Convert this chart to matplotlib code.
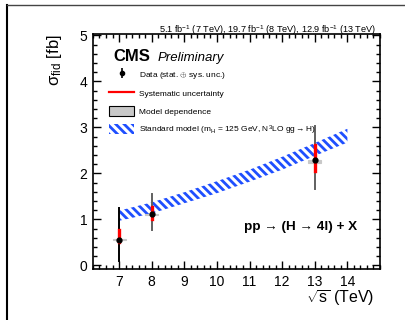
"""
Fiducial H->4l cross section vs sqrt(s), CMS-style reproduction.
"""
import matplotlib
matplotlib.use("Agg")
import matplotlib.pyplot as plt
from matplotlib.lines import Line2D
from matplotlib.patches import Patch, Rectangle
from matplotlib.legend_handler import HandlerTuple
from matplotlib.ticker import MultipleLocator

plt.rcParams["font.family"] = ["Liberation Sans", "DejaVu Sans"]
plt.rcParams["mathtext.fontset"] = "custom"
plt.rcParams["mathtext.rm"] = "Liberation Sans"
plt.rcParams["mathtext.it"] = "Liberation Sans:italic"
plt.rcParams["mathtext.bf"] = "Liberation Sans:bold"
plt.rcParams["hatch.linewidth"] = 2.0
plt.rcParams["hatch.color"] = "#1f4fff"

# measured points
energies = [7, 8, 13]
xsec = [0.56, 1.11, 2.29]
tot_lo = [0.10, 0.76, 1.66]
tot_hi = [1.25, 1.55, 3.02]
sys_lo = [0.50, 1.01, 2.06]
sys_hi = [0.77, 1.26, 2.61]
model_lo = [0.545, 1.10, 2.23]
model_hi = [0.565, 1.12, 2.30]

# standard model band (N3LO gg->H)
sm_energy = [7, 8, 9, 10, 11, 12, 13, 14]
sm_lo = [0.97, 1.13, 1.35, 1.57, 1.82, 2.08, 2.38, 2.67]
sm_hi = [1.19, 1.37, 1.59, 1.83, 2.08, 2.36, 2.66, 2.97]

LUMI_TEXT = (r"5.1 fb$^{-1}$ (7 TeV), 19.7 fb$^{-1}$ (8 TeV), "
             r"12.9 fb$^{-1}$ (13 TeV)")
BAR_COLORS = ["black", "#606060", "#606060"]

fig = plt.figure(figsize=(4.06, 3.2), dpi=100)
ax = fig.add_axes([0.229, 0.159, 0.707, 0.735])

# SM band
ax.fill_between(sm_energy, sm_lo, sm_hi, facecolor="white",
                edgecolor="#1f4fff", hatch="\\\\\\\\", linewidth=0, zorder=2)

# data: total error, model dependence box, systematic, point
for i, e in enumerate(energies):
    ax.plot([e, e], [tot_lo[i], tot_hi[i]], color=BAR_COLORS[i], lw=1.4, zorder=3)
    ax.add_patch(Rectangle((e - 0.2, model_lo[i]), 0.4,
                           model_hi[i] - model_lo[i],
                           facecolor="#c8c8c8", edgecolor="#c8c8c8",
                           lw=0.8, zorder=3))
    ax.plot([e, e], [sys_lo[i], sys_hi[i]], color="red", lw=2.4, zorder=4)
ax.plot(energies, xsec, "o", color="black", ms=3.5, zorder=5)

ax.set_xlim(6.2, 15.0)
ax.set_ylim(-0.08, 5.03)
ax.xaxis.set_major_locator(MultipleLocator(1))
ax.xaxis.set_minor_locator(MultipleLocator(0.2))
ax.yaxis.set_major_locator(MultipleLocator(1))
ax.yaxis.set_minor_locator(MultipleLocator(0.2))
ax.set_xticks(range(7, 15))
ax.tick_params(which="both", direction="in", top=True, right=True,
               labelsize=10, width=1.0)
ax.tick_params(which="major", length=6, pad=4)
ax.tick_params(which="minor", length=3)
for s in ax.spines.values():
    s.set_linewidth(1.2)

ax.set_ylabel(r"$\mathrm{σ}_{\mathrm{fid}}$ [fb]", fontsize=12, loc="top")
ax.yaxis.set_label_coords(-0.10, 1.0)
ax.set_xlabel(r"$\sqrt{\mathrm{s}}$ (TeV)", fontsize=11.5, loc="right")
ax.xaxis.set_label_coords(0.98, -0.08)

ax.text(0.07, 0.885, "CMS", fontsize=12, fontweight="bold",
        transform=ax.transAxes)
ax.text(0.225, 0.885, "Preliminary", fontsize=9.5, style="italic",
        transform=ax.transAxes)
ax.text(0.986, 1.006, LUMI_TEXT, fontsize=6.6, ha="right",
        transform=ax.transAxes)
ax.text(0.525, 0.165, "pp → (H → 4l) + X",
        fontsize=9.7, fontweight="bold", transform=ax.transAxes)

handles = [
    (Line2D([], [], color="black", marker="|", ms=7, mew=1.2, ls="none"),
     Line2D([], [], color="black", marker="o", ms=3, ls="none")),
    Line2D([], [], color="red", lw=1.6),
    Patch(facecolor="#c8c8c8", edgecolor="black", lw=0.8),
    Patch(facecolor="white", edgecolor="#1f4fff", hatch="\\\\\\\\", lw=0),
]
labels = [
    r"Data (stat. $\oplus$ sys. unc.)",
    "Systematic uncertainty",
    "Model dependence",
    r"Standard model (m$_{\mathrm{H}}$ = 125 GeV, N$^{3}$LO gg$\rightarrow$H)",
]
ax.legend(handles, labels, loc="upper left", bbox_to_anchor=(0.04, 0.868),
          frameon=False, fontsize=6, handlelength=3.1, handleheight=1.5,
          handletextpad=0.6, labelspacing=0.88, borderpad=0,
          handler_map={tuple: HandlerTuple(ndivide=1)})

# outer frame lines
fig.add_artist(Line2D([0.017, 0.017], [0.0, 0.984], color="black", lw=1.5,
                      transform=fig.transFigure))
fig.add_artist(Line2D([0.017, 1.0], [0.984, 0.984], color="#444444", lw=1.0,
                      transform=fig.transFigure))

fig.savefig("out.png", dpi=100)
